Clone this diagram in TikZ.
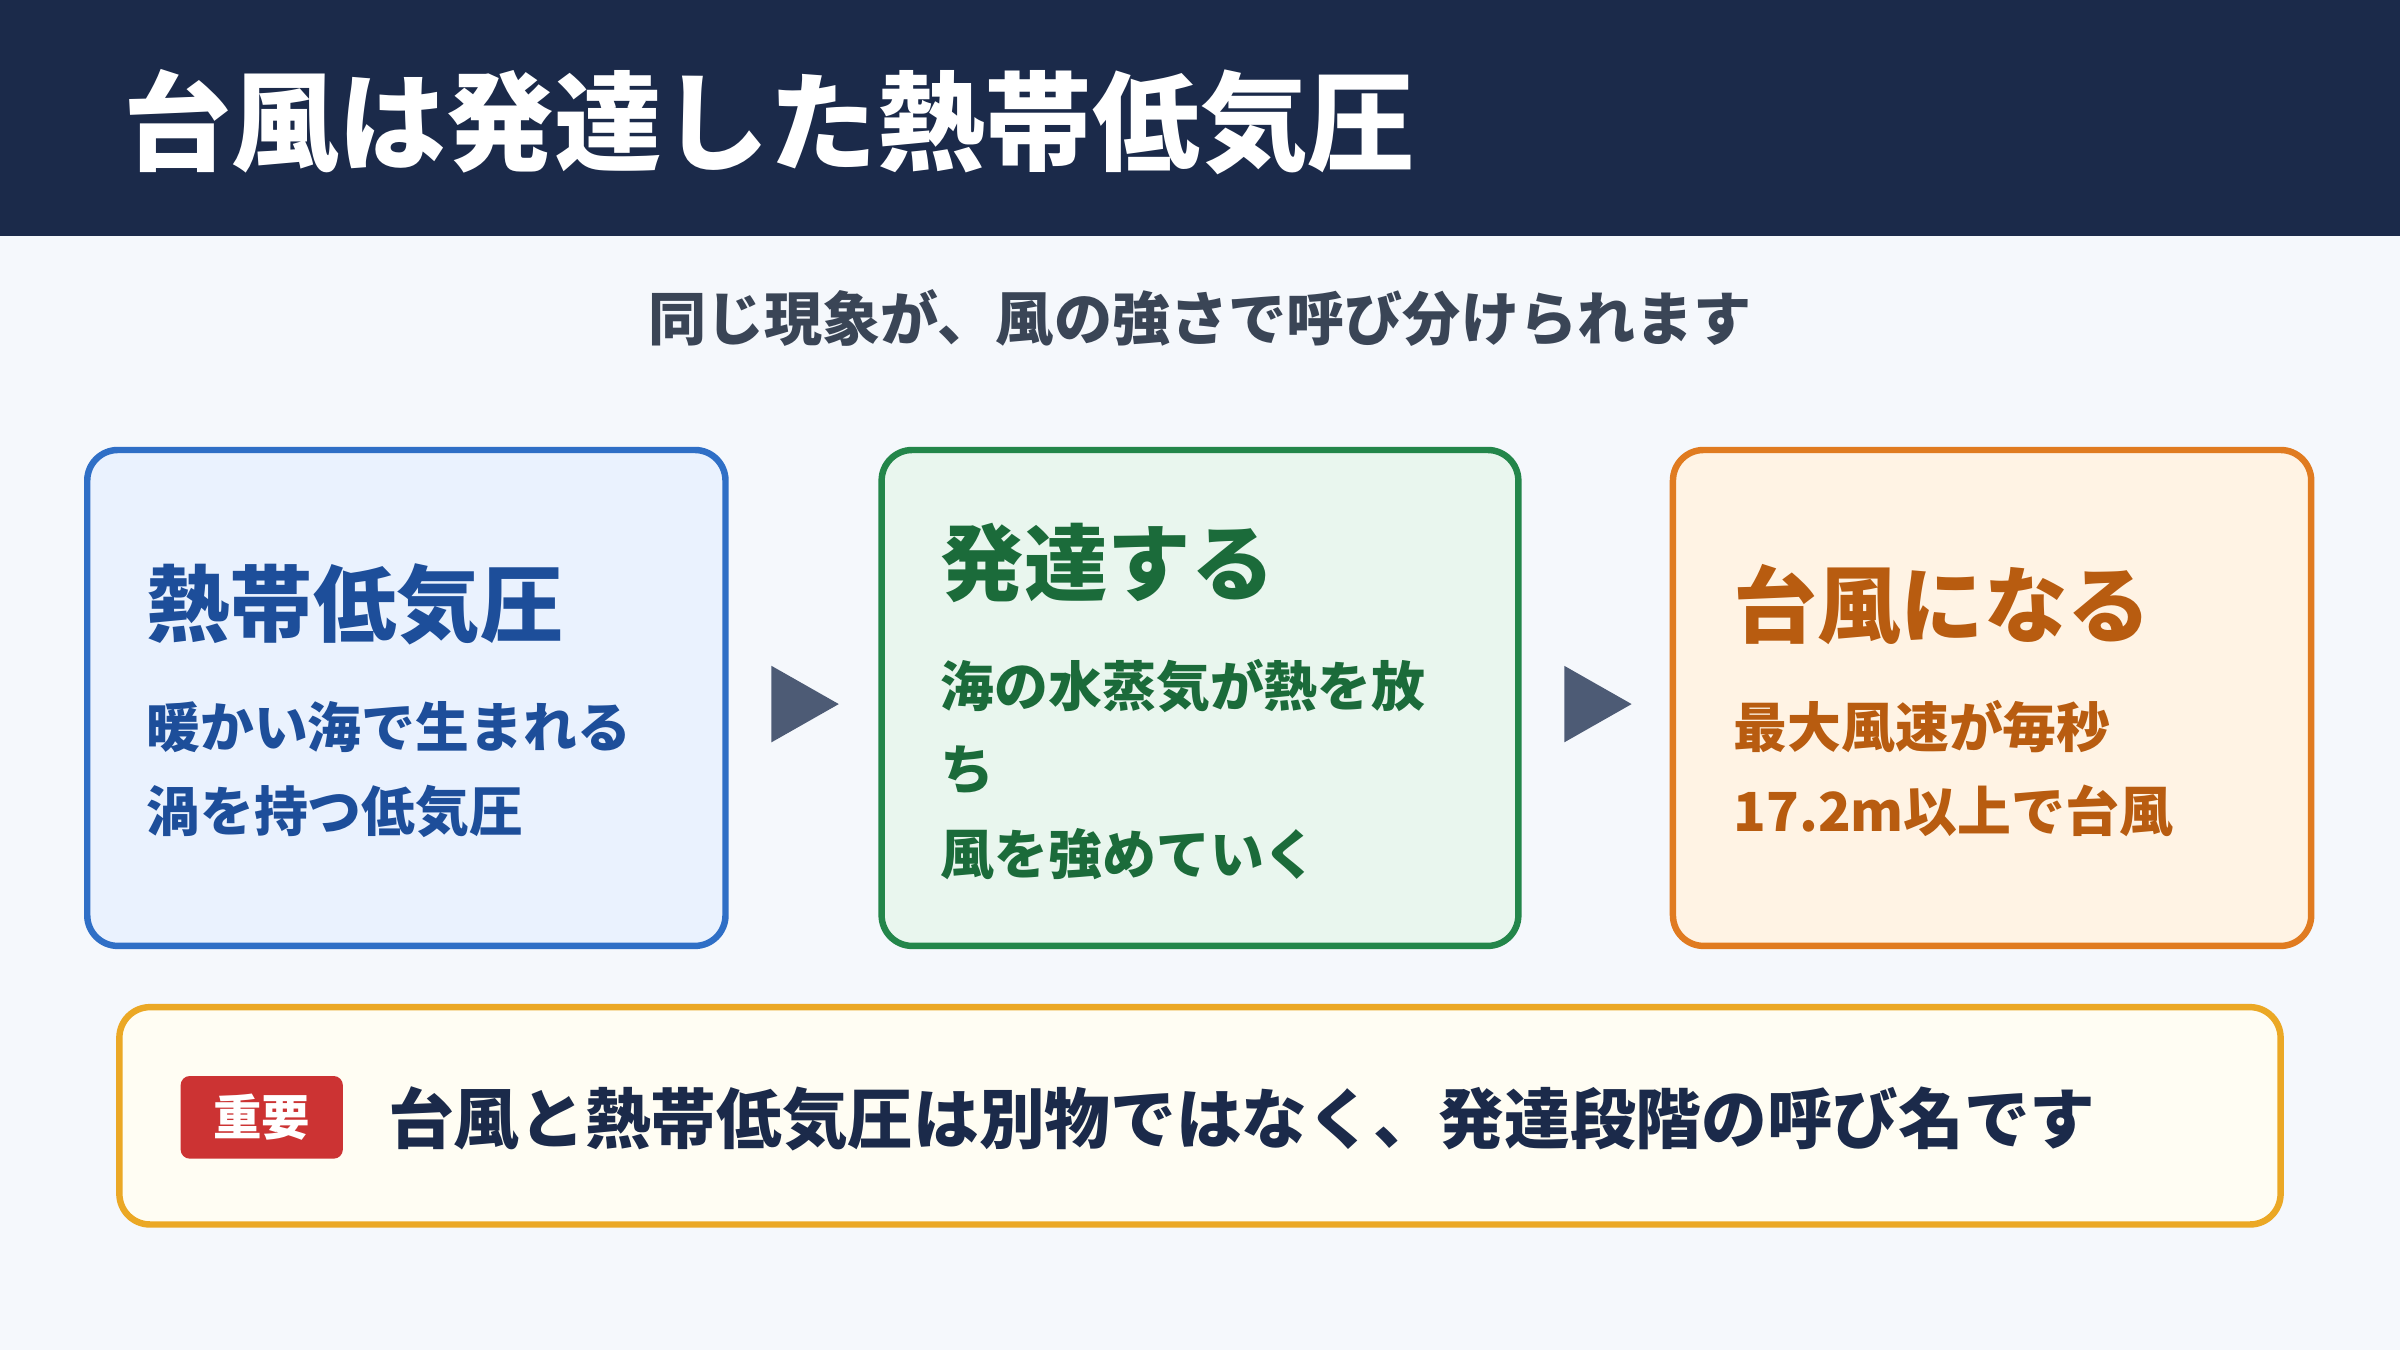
\documentclass[tikz,border=0pt]{standalone}
\usepackage{fontspec}
\setmainfont{Noto Sans CJK JP}
\usetikzlibrary{positioning}
\definecolor{navy}{HTML}{1B2A4A}
\definecolor{pagebg}{HTML}{F5F8FC}
\definecolor{subgray}{HTML}{3A4556}
\definecolor{bluebd}{HTML}{2F6FC6}
\definecolor{bluefill}{HTML}{EAF2FE}
\definecolor{bluetx}{HTML}{1D4E9A}
\definecolor{greenbd}{HTML}{23864A}
\definecolor{greenfill}{HTML}{E9F6EE}
\definecolor{greentx}{HTML}{1B6B3A}
\definecolor{orangebd}{HTML}{E07B20}
\definecolor{orangefill}{HTML}{FFF3E4}
\definecolor{orangetx}{HTML}{B85C10}
\definecolor{yellowbd}{HTML}{EBA825}
\definecolor{yellowfill}{HTML}{FFFDF3}
\definecolor{badgered}{HTML}{CC3333}
\definecolor{arrowgray}{HTML}{4D5B75}
\tikzset{
  stage/.style={draw=#1bd, fill=#1fill, line width=1.2pt, rounded corners=0.2cm},
  stagetitle/.style={anchor=west, font=\fontsize{15.5}{18}\selectfont\bfseries, text=#1tx, inner sep=0pt},
  stagebody/.style={anchor=west, font=\fontsize{10}{12}\selectfont\bfseries, text=#1tx, inner sep=0pt},
  nextstep/.style={fill=arrowgray},
}
\begin{document}
\begin{tikzpicture}[x=0.01cm,y=-0.01cm]
  \useasboundingbox (0,0) rectangle (1568,882);
  \fill[pagebg] (0,0) rectangle (1568,882);
  % header
  \fill[navy] (0,0) rectangle (1568,154);
  \node[anchor=west, inner sep=0pt, text=white, font=\fontsize{20}{24}\selectfont\bfseries] (title) at (80,80) {台風は発達した熱帯低気圧};
  \node[text=subgray, font=\fontsize{10.8}{13}\selectfont\bfseries] (subtitle) at (784,208) {同じ現象が、風の強さで呼び分けられます};

  % stages
  \draw[stage=blue] (57,294) rectangle (474,618);
  \node[stagetitle=blue] (t1) at (95,395) {熱帯低気圧};
  \node[stagebody=blue] (b1a) at (95,475) {暖かい海で生まれる};
  \node[stagebody=blue] (b1b) at (95,530) {渦を持つ低気圧};

  \draw[stage=green] (576,294) rectangle (992,618);
  \node[stagetitle=green] (t2) at (614,368) {発達する};
  \node[stagebody=green] (b2a) at (614,448) {海の水蒸気が熱を放};
  \node[stagebody=green] (b2b) at (614,503) {ち};
  \node[stagebody=green] (b2c) at (614,558) {風を強めていく};

  \draw[stage=orange] (1093,294) rectangle (1510,618);
  \node[stagetitle=orange] (t3) at (1132,395) {台風になる};
  \node[stagebody=orange] (b3a) at (1132,475) {最大風速が毎秒};
  \node[stagebody=orange] (b3b) at (1132,530) {17.2m以上で台風};

  % arrows between stages
  \fill[nextstep] (504,435) -- (548,460) -- (504,485) -- cycle;
  \fill[nextstep] (1022,435) -- (1066,460) -- (1022,485) -- cycle;

  % note
  \draw[stage=yellow] (78,658) rectangle (1490,800);
  \fill[badgered, rounded corners=0.06cm] (118,703) rectangle (224,757);
  \node[text=white, font=\fontsize{9}{11}\selectfont\bfseries] (badge) at (171,730) {重要};
  \node[anchor=west, inner sep=0pt, text=navy, font=\fontsize{12.2}{14}\selectfont\bfseries] (note) at (253,731) {台風と熱帯低気圧は別物ではなく、発達段階の呼び名です};
\end{tikzpicture}
\end{document}
